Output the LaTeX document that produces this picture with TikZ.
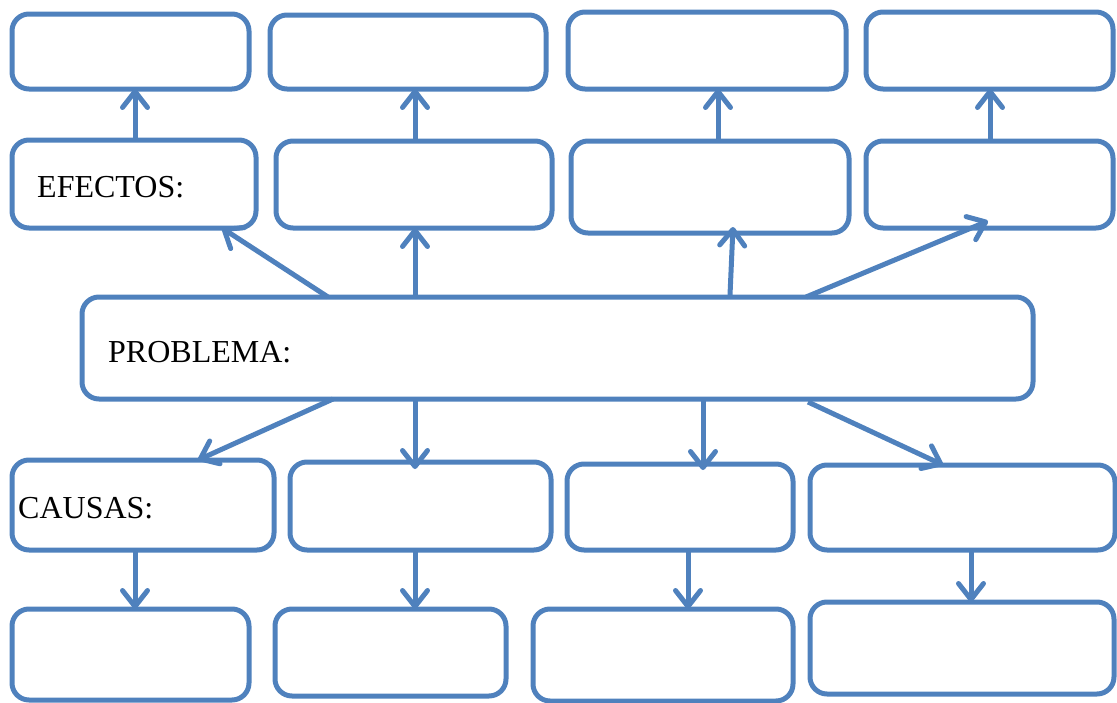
\documentclass[tikz,border=0pt]{standalone}
\usepackage{fontspec}
\setmainfont{Liberation Serif}
\usetikzlibrary{arrows.meta,calc}
\definecolor{blu}{HTML}{4F81BD}
\begin{document}
\begin{tikzpicture}[x=1pt,y=-1pt,
  box/.style={draw=blu, line width=5pt, rounded corners=17pt, inner sep=0pt, outer sep=0pt, fill=none},
  arr/.style={draw=blu, line width=5pt, -{Straight Barb[length=16pt,width=25pt,line cap=round,line join=round]}},
  lbl/.style={font=\fontsize{32}{32}\selectfont, anchor=base west, inner sep=0pt}]
\useasboundingbox (0,0) rectangle (1117,702);
% row 1
\node[box, minimum width=237pt, minimum height=75pt] (A1) at (130.5,51.5) {};
\node[box, minimum width=276pt, minimum height=74pt] (A2) at (408,52) {};
\node[box, minimum width=278pt, minimum height=77pt] (A3) at (707,50.5) {};
\node[box, minimum width=247pt, minimum height=77pt] (A4) at (989.5,50.5) {};
% row 2
\node[box, minimum width=244pt, minimum height=88pt] (B1) at (134,184) {};
\node[box, minimum width=276pt, minimum height=87pt] (B2) at (414,184.5) {};
\node[box, minimum width=278pt, minimum height=92pt] (B3) at (710,187) {};
\node[box, minimum width=247pt, minimum height=87pt] (B4) at (989.5,184.5) {};
% problem
\node[box, minimum width=951pt, minimum height=102pt] (P) at (557.5,348) {};
% row 3
\node[box, minimum width=262pt, minimum height=90pt] (C1) at (143,505) {};
\node[box, minimum width=261pt, minimum height=88pt] (C2) at (420.5,506) {};
\node[box, minimum width=226pt, minimum height=86pt] (C3) at (680,507) {};
\node[box, minimum width=305pt, minimum height=85pt] (C4) at (962.5,507.5) {};
% row 4
\node[box, minimum width=237pt, minimum height=91pt] (D1) at (130.5,654.5) {};
\node[box, minimum width=231pt, minimum height=87pt] (D2) at (390.5,652.5) {};
\node[box, minimum width=260pt, minimum height=92pt] (D3) at (663,655) {};
\node[box, minimum width=304pt, minimum height=92pt] (D4) at (962,648) {};
% labels
\node[lbl] (tE) at (37,197) {EFECTOS:};
\node[lbl] (tP) at (108,362) {PROBLEMA:};
\node[lbl] (tC) at (18,518) {CAUSAS:};
% effects arrows
\draw[arr] (B1.north -| 135,0) -- (A1.south -| 135,0);
\draw[arr] (B2.north -| 415,0) -- (A2.south -| 415,0);
\draw[arr] (B3.north -| 718,0) -- (A3.south -| 718,0);
\draw[arr] (B4.north -| 990,0) -- (A4.south -| 990,0);
% problem to effects
\draw[arr] (P.north -| 328,0) -- (B1.south -| 222,0);
\draw[arr] (P.north -| 415,0) -- (B2.south -| 415,0);
\draw[arr] ([yshift=2pt]P.north -| 730,0) -- ([yshift=6pt]B3.south -| 733,0);
\draw[arr] (P.north -| 806,0) -- ([yshift=7pt]B4.south -| 988,0);
% problem to causes
\draw[arr] (P.south -| 333,0) -- (C1.north -| 198,0);
\draw[arr] (P.south -| 415,0) -- ([yshift=-7pt]C2.north -| 415,0);
\draw[arr] (P.south -| 703,0) -- ([yshift=-6pt]C3.north -| 703,0);
\draw[arr] ([yshift=-3pt]P.south -| 808,0) -- (C4.north -| 943,0);
% causes to sub-causes
\draw[arr] (C1.south -| 135,0) -- (D1.north -| 135,0);
\draw[arr] (C2.south -| 415,0) -- (D2.north -| 415,0);
\draw[arr] (C3.south -| 688,0) -- (D3.north -| 688,0);
\draw[arr] (C4.south -| 971,0) -- (D4.north -| 971,0);
\end{tikzpicture}
\end{document}
